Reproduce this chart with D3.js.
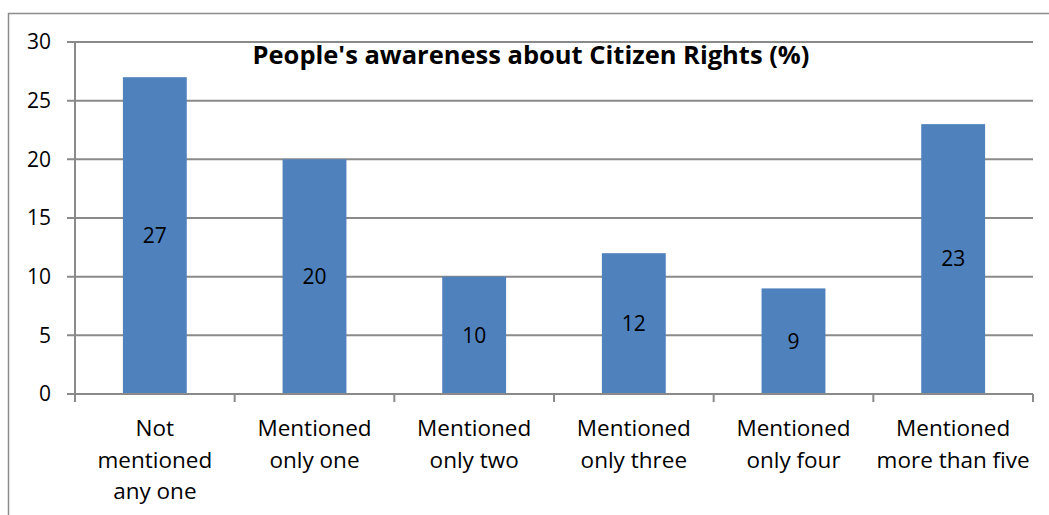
<!DOCTYPE html>
<html>
<head>
<meta charset="utf-8">
<script src="https://cdn.jsdelivr.net/npm/d3@7"></script>
<style>
  body { margin: 0; background: #fff; }
  text { font-family: "Open Sans", Lato, sans-serif; fill: #000; }
</style>
</head>
<body>
<svg width="1049" height="515"></svg>
<script>
var categories = [
  ["Not", "mentioned", "any one"],
  ["Mentioned", "only one"],
  ["Mentioned", "only two"],
  ["Mentioned", "only three"],
  ["Mentioned", "only four"],
  ["Mentioned", "more than five"]
];
var values = [27, 20, 10, 12, 9, 23];
var yTicks = [0, 5, 10, 15, 20, 25, 30];
var title = "People's awareness about Citizen Rights (%)";

var svg = d3.select("svg");
var plotLeft = 75, plotRight = 1033, plotTop = 42, plotBottom = 394;

// outer chart frame (runs off the page at right and bottom)
svg.append("rect")
    .attr("x", 8.5).attr("y", 13.5)
    .attr("width", 1100).attr("height", 600)
    .attr("fill", "none").attr("stroke", "#8c8c8c").attr("stroke-width", 1.5);

var x = d3.scaleBand()
    .domain(d3.range(categories.length))
    .range([plotLeft, plotRight])
    .paddingInner(0.6).paddingOuter(0.3);

var xb = d3.scaleBand()
    .domain(d3.range(categories.length))
    .range([plotLeft, plotRight]);

var y = d3.scaleLinear().domain([0, 30]).range([plotBottom, plotTop]);

// gridlines
svg.append("g").selectAll("line")
  .data(yTicks)
  .enter().append("line")
    .attr("x1", plotLeft - 8).attr("x2", plotRight)
    .attr("y1", function(d) { return y(d); })
    .attr("y2", function(d) { return y(d); })
    .attr("stroke", "#8a8a8a").attr("stroke-width", 2);

// y axis line
svg.append("line")
    .attr("x1", plotLeft).attr("x2", plotLeft).attr("y1", plotTop).attr("y2", plotBottom)
    .attr("stroke", "#8a8a8a").attr("stroke-width", 2);

// y labels
svg.append("g").selectAll("text")
  .data(yTicks)
  .enter().append("text")
    .attr("x", 51)
    .attr("y", function(d) { return y(d); })
    .attr("dy", "0.35em")
    .attr("text-anchor", "end")
    .attr("font-size", "21px")
    .text(function(d) { return d; });

// x tick marks at band boundaries
var bounds = d3.range(categories.length).map(function(i) { return xb(i); }).concat([plotRight]);
svg.append("g").selectAll("line")
  .data(bounds)
  .enter().append("line")
    .attr("x1", function(d) { return d; }).attr("x2", function(d) { return d; })
    .attr("y1", plotBottom).attr("y2", plotBottom + 8)
    .attr("stroke", "#8a8a8a").attr("stroke-width", 2);

// bars
svg.append("g").selectAll("rect")
  .data(values)
  .enter().append("rect")
    .attr("x", function(d, i) { return x(i); })
    .attr("y", function(d) { return y(d); })
    .attr("width", x.bandwidth())
    .attr("height", function(d) { return y(0) - y(d); })
    .attr("fill", "#4f81bd");

// redraw baseline on top of bars
svg.append("line")
    .attr("x1", plotLeft - 8).attr("x2", plotRight).attr("y1", plotBottom).attr("y2", plotBottom)
    .attr("stroke", "#8a8a8a").attr("stroke-width", 2);

// value labels
svg.append("g").selectAll("text")
  .data(values)
  .enter().append("text")
    .attr("x", function(d, i) { return x(i) + x.bandwidth() / 2; })
    .attr("y", function(d) { return (y(d) + y(0)) / 2; })
    .attr("dy", "0.35em")
    .attr("text-anchor", "middle")
    .attr("font-size", "21px")
    .text(function(d) { return d; });

// category labels
var cat = svg.append("g").selectAll("text")
  .data(categories)
  .enter().append("text")
    .attr("text-anchor", "middle")
    .attr("font-size", "22.5px")
    .attr("x", function(d, i) { return xb(i) + xb.bandwidth() / 2; })
    .attr("y", 436);
cat.selectAll("tspan")
  .data(function(d) { return d; })
  .enter().append("tspan")
    .attr("x", function() { return d3.select(this.parentNode).attr("x"); })
    .attr("dy", function(d, i) { return i === 0 ? 0 : 31.5; })
    .text(function(d) { return d; });

// title
svg.append("text")
    .attr("x", 531).attr("y", 64)
    .attr("text-anchor", "middle")
    .attr("font-size", "25.5px")
    .attr("font-weight", "bold")
    .text(title);
</script>
</body>
</html>
